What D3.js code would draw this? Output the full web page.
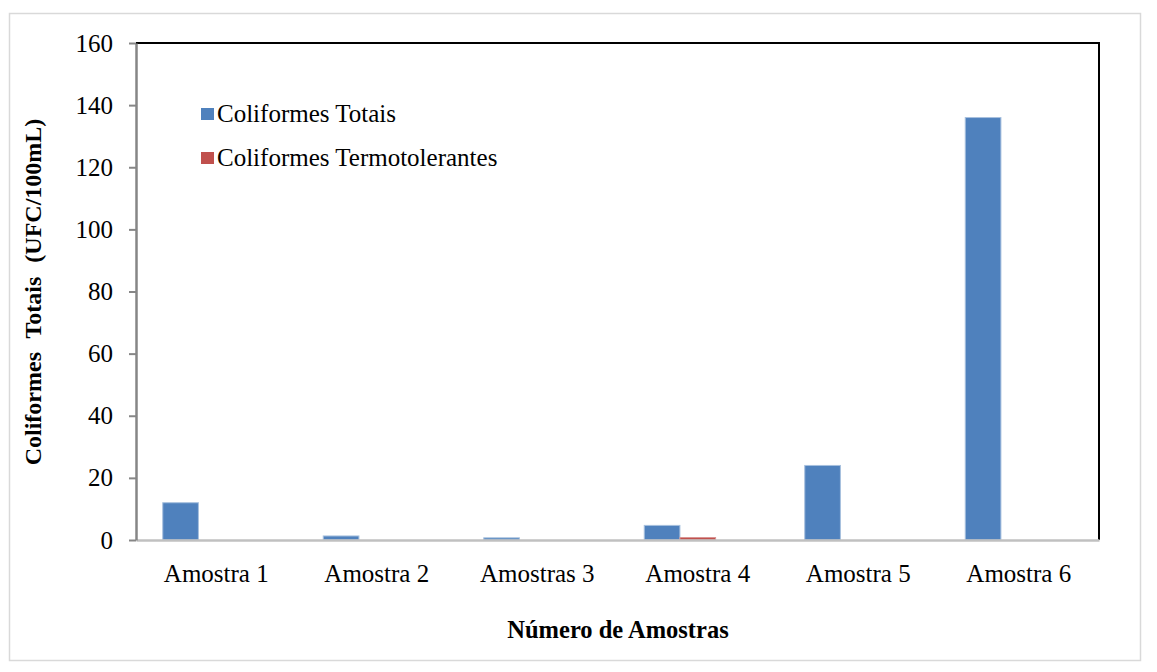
<!DOCTYPE html>
<html>
<head>
<meta charset="utf-8">
<script src="https://cdn.jsdelivr.net/npm/d3@7"></script>
<style>
  body { margin: 0; background: #fff; }
</style>
</head>
<body>
<div id="chart"></div>
<script>
// data
const amostras = ['Amostra 1', 'Amostra 2', 'Amostras 3', 'Amostra 4', 'Amostra 5', 'Amostra 6'];
const seriesNames = ['Coliformes Totais', 'Coliformes Termotolerantes'];
const totais = [12, 1.3, 0.7, 4.7, 24, 136];
const termotolerantes = [0, 0, 0, 0.8, 0, 0];
const yTicks = [0, 20, 40, 60, 80, 100, 120, 140, 160];
const colors = ['#4f81bd', '#c0504d'];

const serif = '"Liberation Serif", "Times New Roman", Tinos, "DejaVu Serif", serif';

const width = 1157, height = 672;
const margin = {top: 43, right: 58, bottom: 132, left: 136};
const w = width - margin.left - margin.right;
const h = height - margin.top - margin.bottom;

const svg = d3.select('#chart').append('svg')
  .attr('width', width)
  .attr('height', height);

// outer chart border
svg.append('rect')
  .attr('x', 9.5).attr('y', 13.5)
  .attr('width', 1131).attr('height', 647)
  .attr('fill', '#fff')
  .attr('stroke', '#d9d9d9')
  .attr('stroke-width', 1.5);

const g = svg.append('g')
  .attr('transform', `translate(${margin.left},${margin.top})`);

const x = d3.scaleBand()
  .domain(amostras)
  .range([0, w]);

// the original chart keeps room for three bars per category (third slot empty)
const xSub = d3.scaleBand()
  .domain([0, 1, 2])
  .range([0, x.bandwidth()])
  .paddingOuter(0.75)
  .paddingInner(0);

const y = d3.scaleLinear()
  .domain([0, 160])
  .range([h, 0]);

// plot border top + right (black)
g.append('path')
  .attr('d', `M0,0H${w}V${h}`)
  .attr('fill', 'none')
  .attr('stroke', '#000')
  .attr('stroke-width', 2);

const rows = amostras.map((a, i) => ({amostra: a, values: [totais[i], termotolerantes[i]]}));

const groups = g.selectAll('.grp')
  .data(rows)
  .enter().append('g')
  .attr('transform', d => `translate(${x(d.amostra)},0)`);

groups.selectAll('rect')
  .data(d => d.values.map((v, k) => ({k, v})))
  .enter().append('rect')
  .attr('x', d => xSub(d.k))
  .attr('y', d => y(d.v))
  .attr('width', xSub.bandwidth())
  .attr('height', d => h - y(d.v))
  .attr('fill', d => colors[d.k])
  .attr('stroke', d => d.v > 0 ? (d.k === 0 ? '#a7c0de' : '#d99694') : 'none')
  .attr('stroke-width', 1);

// x axis (light gray line, no ticks)
g.append('g')
  .attr('transform', `translate(0,${h})`)
  .call(d3.axisBottom(x).tickSize(0).tickPadding(24))
  .call(a => a.select('.domain').attr('stroke', '#c0c0c0').attr('stroke-width', 2.5))
  .call(a => a.selectAll('text')
    .style('font-size', '25px')
    .style('font-family', serif)
    .attr('fill', '#000'));

// y axis
g.append('g')
  .call(d3.axisLeft(y).tickValues(yTicks).tickSize(7).tickSizeOuter(0).tickPadding(16))
  .call(a => a.select('.domain').attr('stroke', '#868686').attr('stroke-width', 2.5))
  .call(a => a.selectAll('.tick line').attr('stroke', '#868686').attr('stroke-width', 2))
  .call(a => a.selectAll('text')
    .style('font-size', '25px')
    .style('font-family', serif)
    .attr('fill', '#000'));

// legend
const legend = svg.append('g').attr('transform', 'translate(201,114)');
seriesNames.forEach((name, i) => {
  const row = legend.append('g').attr('transform', `translate(0,${i * 44})`);
  row.append('rect')
    .attr('x', 0).attr('y', -6)
    .attr('width', 13).attr('height', 12)
    .attr('fill', colors[i]);
  row.append('text')
    .attr('x', 16).attr('y', 8)
    .style('font-size', '25px')
    .style('font-family', serif)
    .text(name);
});

// axis titles
svg.append('text')
  .attr('x', 618).attr('y', 638)
  .attr('text-anchor', 'middle')
  .style('font-size', '24.5px')
  .style('font-weight', 'bold')
  .style('font-family', serif)
  .text('Número de Amostras');

svg.append('text')
  .attr('transform', 'translate(41,292) rotate(-90)')
  .attr('text-anchor', 'middle')
  .style('font-size', '24px')
  .style('font-weight', 'bold')
  .style('font-family', serif)
  .attr('word-spacing', 8)
  .text('Coliformes Totais (UFC/100mL)');
</script>
</body>
</html>
